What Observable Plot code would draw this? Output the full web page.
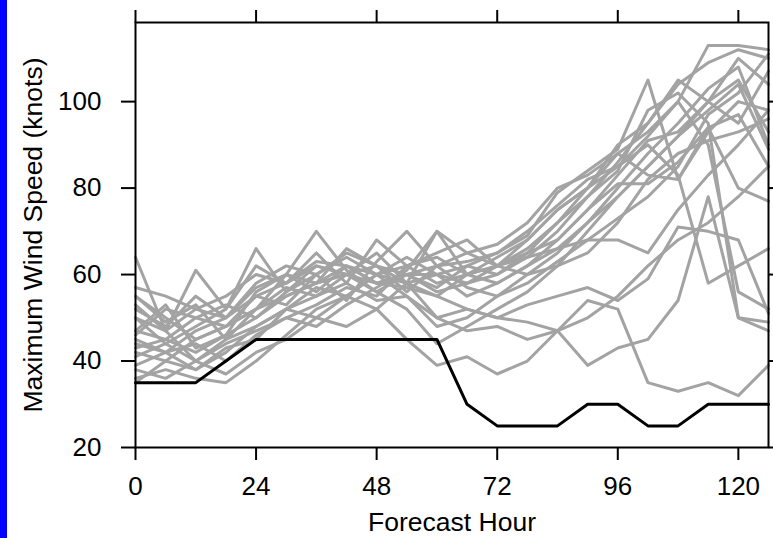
<!DOCTYPE html>
<html>
<head>
<meta charset="utf-8">
<script src="https://cdn.jsdelivr.net/npm/d3@7"></script>
<script src="https://cdn.jsdelivr.net/npm/@observablehq/plot@0.6"></script>
<style>
  html, body { margin: 0; padding: 0; background: #fff; }
  #wrap { position: relative; width: 773px; height: 538px; overflow: hidden; }
  #strip { position: absolute; left: 0; top: 0; width: 7px; height: 538px; background: #0000ff; }
</style>
</head>
<body>
<div id="wrap"><div id="chart"></div><div id="strip"></div></div>
<script>
// Forecast hours (every 6 h)
const hours = [0,6,12,18,24,30,36,42,48,54,60,66,72,78,84,90,96,102,108,114,120,126];

// Observed (best track) maximum wind speed, knots
const observed = [35,35,35,40,45,45,45,45,45,45,45,30,25,25,25,30,30,25,25,30,30,30];

// Ensemble members, maximum wind speed, knots
const m1  = [47,45,50,48,52,55,58,60,62,60,60,58,62,68,75,80,85,92,100,113,113,112];
const m2  = [55,50,45,48,55,58,62,60,56,60,62,63,65,69,79,84,89,105,82,93,100,98];
const m3  = [45,42,47,50,55,53,60,64,60,62,58,60,62,66,72,80,90,95,105,100,95,107];
const m4  = [50,47,52,55,60,58,63,62,58,60,56,58,60,64,70,78,86,95,104,109,112,110];
const m5  = [42,40,45,48,52,57,55,60,58,57,55,60,64,68,75,80,88,83,82,94,80,77];
const m6  = [36,38,36,35,40,46,52,55,60,58,55,52,50,49,47,39,43,45,54,78,50,49];
const m7  = [38,36,40,37,42,45,50,48,52,45,39,41,37,40,47,54,52,35,33,35,32,39];
const m8  = [44,42,38,42,48,52,55,58,54,55,50,52,50,53,55,57,54,59,71,70,68,51];
const m9  = [52,48,55,50,57,60,56,62,58,60,57,62,65,70,76,82,85,90,83,58,62,66];
const m10 = [41,44,40,45,48,52,50,55,52,58,50,47,48,45,47,50,55,62,68,72,78,85];
const m11 = [57,55,52,50,58,62,60,65,62,56,62,65,67,72,80,83,88,93,100,90,56,52];
const m12 = [46,52,50,53,50,56,62,60,65,58,60,62,60,65,72,78,84,98,102,95,50,47];
const m13 = [53,47,61,52,62,58,65,58,68,62,64,60,58,62,68,75,83,91,93,100,105,93];
const m14 = [43,45,42,46,50,55,58,62,60,55,48,50,55,60,65,72,80,88,95,103,108,90];
const m15 = [39,42,44,40,46,50,53,57,55,62,65,68,62,65,68,75,81,81,86,94,97,85];
const m16 = [35,40,38,43,45,52,57,55,60,64,60,55,58,62,66,72,78,85,92,98,104,89];
const m17 = [47,53,43,46,56,60,58,66,62,58,70,60,62,64,66,68,68,65,75,83,90,98];
const m18 = [50,44,48,52,66,56,60,54,63,70,62,57,55,58,63,68,73,78,85,97,102,111];
const m19 = [55,49,53,45,52,60,70,61,56,52,44,48,52,56,62,70,78,85,92,100,110,104];
const m20 = [64,47,40,44,47,50,48,53,57,61,70,65,62,60,62,65,72,82,88,91,93,96];

const members = [m1,m2,m3,m4,m5,m6,m7,m8,m9,m10,m11,m12,m13,m14,m15,m16,m17,m18,m19,m20];

const xTicks = [0,24,48,72,96,120];
const yTicks = [20,40,60,80,100];

const ens = members.flatMap((m, k) => m.map((v, i) => ({member: k, hour: hours[i], wind: v})));
const obs = observed.map((v, i) => ({hour: hours[i], wind: v}));

const font = "'Liberation Sans', Arial, Helvetica, sans-serif";

const chart = Plot.plot({
  width: 773,
  height: 538,
  marginLeft: 135,
  marginRight: 5,
  marginTop: 22,
  marginBottom: 91,
  style: {fontFamily: font, fontSize: "26px", color: "#000", background: "#fff"},
  x: {domain: [0, 126]},
  y: {domain: [20, 118.3]},
  marks: [
    Plot.line(ens, {x: "hour", y: "wind", z: "member", stroke: "#a3a3a3", strokeWidth: 3}),
    Plot.line(obs, {x: "hour", y: "wind", stroke: "#000", strokeWidth: 3}),
    Plot.frame({stroke: "#000", strokeWidth: 2}),
    Plot.axisX({anchor: "bottom", ticks: xTicks, tickSize: 13, tickPadding: 16, strokeWidth: 2, fontSize: 26, label: null}),
    Plot.axisX({anchor: "top", ticks: xTicks, tickSize: 13, strokeWidth: 2, tickFormat: () => "", label: null}),
    Plot.axisY({anchor: "left", ticks: yTicks, tickSize: 14, tickPadding: 20, strokeWidth: 2, fontSize: 26, label: null}),
    Plot.axisY({anchor: "right", ticks: yTicks, tickSize: 14, strokeWidth: 2, tickFormat: () => "", label: null}),
    Plot.text(["Forecast Hour"], {frameAnchor: "bottom", dy: 83, text: d => d, fontSize: 26.5, fill: "#000", textAnchor: "middle"}),
    Plot.text(["Maximum Wind Speed (knots)"], {frameAnchor: "left", dx: -102, rotate: -90, text: d => d, fontSize: 26.5, fill: "#000", textAnchor: "middle", lineAnchor: "middle"})
  ]
});
document.getElementById("chart").appendChild(chart);
</script>
</body>
</html>
